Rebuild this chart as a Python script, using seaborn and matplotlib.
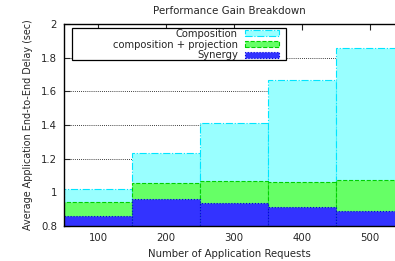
import matplotlib
matplotlib.use("Agg")
import matplotlib.pyplot as plt
import seaborn as sns
import numpy as np
from matplotlib.patches import Patch, Rectangle

sns.set_style("white")
plt.rcParams['font.family'] = ['DejaVu Sans']

requests = [100, 200, 300, 400, 500]
composition = [1.022, 1.236, 1.41, 1.665, 1.858]
comp_proj = [0.942, 1.055, 1.065, 1.061, 1.075]
synergy = [0.857, 0.958, 0.939, 0.913, 0.889]
labels = ["Composition", "composition + projection", "Synergy"]
yticks = [0.8, 1, 1.2, 1.4, 1.6, 1.8, 2]
ytick_labels = ["0.8", "1", "1.2", "1.4", "1.6", "1.8", "2"]

fills = ["#99ffff", "#66ff66", "#3333ff"]
edges = ["#00e5ff", "#00d000", "#0000dd"]
styles = ["-.", "--", ":"]

fig = plt.figure(figsize=(3.95, 2.61), dpi=100)
ax = fig.add_axes([0.162, 0.134, 0.838, 0.774])

for yy in [1.2, 1.4, 1.6, 1.8]:
    ax.axhline(yy, color="black", lw=0.6, ls=(0, (1, 1.5)), zorder=0.5)

for vals, fc, ec, ls in zip([composition, comp_proj, synergy], fills, edges, styles):
    n0 = len(ax.patches)
    sns.barplot(x=requests, y=vals, native_scale=True, width=1.0, color=fc,
                saturation=1, ax=ax, zorder=2)
    for p in ax.patches[n0:]:
        p.set_facecolor(fc)
        p.set_edgecolor(ec)
        p.set_linestyle(ls)
        p.set_linewidth(0.8)
        p.set_zorder(2)

ax.set_xlim(50, 537)
ax.set_ylim(0.8, 2.0)
ax.set_yticks(yticks)
ax.set_yticklabels(ytick_labels)
ax.set_xticks(requests)
ax.set_xticklabels([str(r) for r in requests])
ax.tick_params(axis="both", direction="in", length=4, width=0.8, labelsize=7.3,
               top=True, bottom=True, left=True, right=False, pad=5)
for s in ["left", "bottom", "top"]:
    ax.spines[s].set_visible(True)
    ax.spines[s].set_linewidth(1.0)
    ax.spines[s].set_color("black")
    ax.spines[s].set_zorder(5)
ax.spines["right"].set_visible(False)

ax.set_title("Performance Gain Breakdown", fontsize=7.4, pad=7)
ax.set_ylabel("Average Application End-to-End Delay (sec)", fontsize=6.9, labelpad=6)
ax.set_xlabel("Number of Application Requests", fontsize=7.3, labelpad=4)

# legend frame (gnuplot-style wide key box)
ax.add_patch(Rectangle((0.0242, 0.8218), 0.6465, 0.1584, transform=ax.transAxes,
                       facecolor="white", edgecolor="black", linewidth=0.9,
                       zorder=6, clip_on=False))

handles = [Patch(facecolor=fc, edgecolor=ec, linestyle=ls, linewidth=0.8)
           for fc, ec, ls in zip(fills, edges, styles)]
leg = ax.legend(handles, labels, loc="upper right", bbox_to_anchor=(0.6495, 0.976),
                markerfirst=False, fontsize=7.2, frameon=False,
                handlelength=3.4, handleheight=0.55, labelspacing=0.08,
                borderpad=0, handletextpad=0.7, borderaxespad=0)
for col in leg._legend_handle_box.get_children():
    col.align = "right"
leg.set_zorder(7)

fig.savefig("out.png", dpi=100)
